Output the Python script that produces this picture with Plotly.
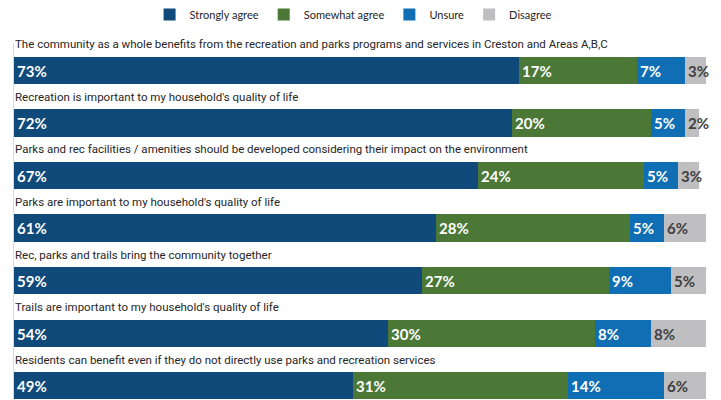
import plotly.graph_objects as go

# Survey statements (top to bottom) and share of responses per answer
statements = [
    "The community as a whole benefits from the recreation and parks programs and services in Creston and Areas A,B,C",
    "Recreation is important to my household's quality of life",
    "Parks and rec facilities / amenities should be developed considering their impact on the environment",
    "Parks are important to my household's quality of life",
    "Rec, parks and trails bring the community together",
    "Trails are important to my household's quality of life",
    "Residents can benefit even if they do not directly use parks and recreation services",
]
strongly_agree = [73, 72, 67, 61, 59, 54, 49]
somewhat_agree = [17, 20, 24, 28, 27, 30, 31]
unsure = [7, 5, 5, 5, 9, 8, 14]
disagree = [3, 2, 3, 6, 5, 8, 6]

series = [
    ("Strongly agree", strongly_agree, "#0F4A7B", "white"),
    ("Somewhat agree", somewhat_agree, "#4B7837", "white"),
    ("Unsure", unsure, "#0F6EB4", "white"),
    ("Disagree", disagree, "#BFBFC1", "#404040"),
]

rows = list(range(len(statements)))

fig = go.Figure()
for name, vals, color, tcolor in series:
    fig.add_trace(go.Bar(
        name=name,
        y=rows,
        x=vals,
        orientation="h",
        width=0.52,
        marker=dict(color=color, line=dict(width=0)),
        text=[f"{v}%" for v in vals],
        textposition="inside",
        insidetextanchor="start",
        textangle=0,
        textfont=dict(family="Lato", size=15, color=tcolor, weight="bold"),
        cliponaxis=False,
        hoverinfo="skip",
    ))

# Statement captions sit just above each bar
for i, s in enumerate(statements):
    fig.add_annotation(
        x=0, y=i, xref="x", yref="y",
        text=s, showarrow=False,
        xanchor="left", yanchor="middle",
        yshift=26, xshift=-1,
        font=dict(family="Roboto", size=11.5, color="#262626"),
    )

fig.update_layout(
    width=721, height=400,
    barmode="stack",
    bargap=0,
    plot_bgcolor="white",
    paper_bgcolor="white",
    margin=dict(l=14, r=15, t=44, b=0),
    uniformtext=dict(mode="show", minsize=15),
    showlegend=True,
    legend=dict(
        orientation="h",
        x=0.49, xanchor="center",
        yref="container", y=1.0, yanchor="top",
        font=dict(family="Lato", size=11, color="#262626"),
        itemwidth=30,
        traceorder="normal",
    ),
    xaxis=dict(range=[0, 100], visible=False, fixedrange=True),
    yaxis=dict(
        range=[6.27, -0.5],
        showticklabels=False,
        showgrid=False,
        zeroline=False,
        showline=True,
        linecolor="#D9D9D9",
        linewidth=1,
        ticks="",
    ),
)

fig.write_html("out.html")
